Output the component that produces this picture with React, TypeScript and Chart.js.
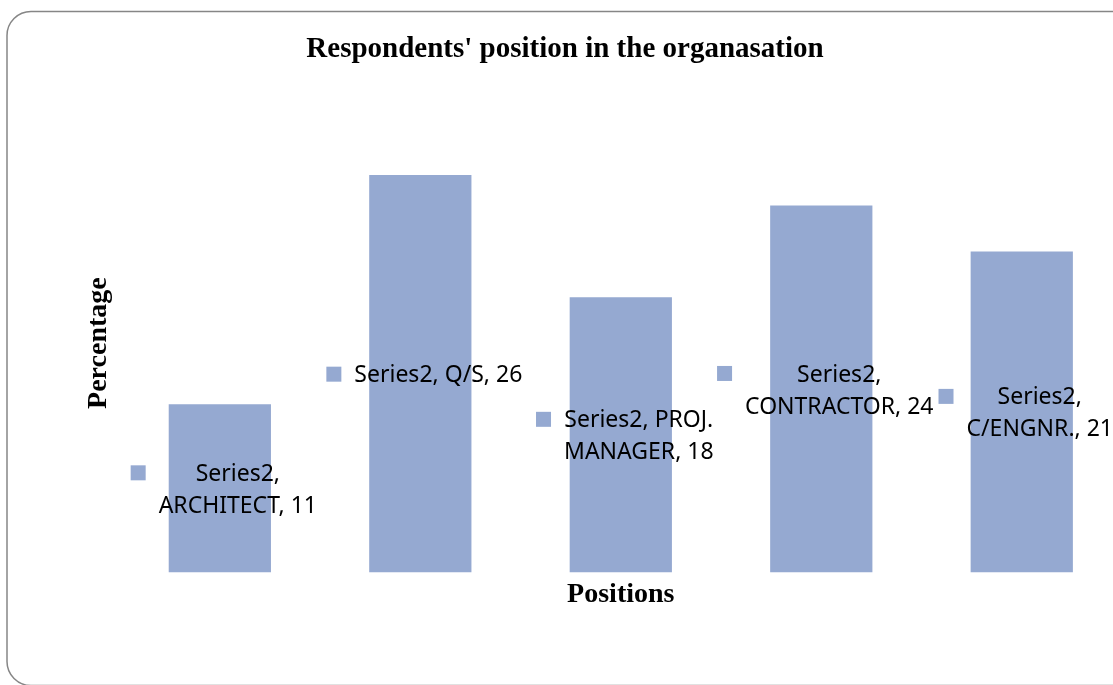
import React, { useEffect, useRef } from "react";
import { Chart, registerables } from "chart.js";

Chart.register(...registerables);

const categories = ["ARCHITECT", "Q/S", "PROJ. MANAGER", "CONTRACTOR", "C/ENGNR."];
const values = [11, 26, 18, 24, 21];
const seriesName = "Series2";
const chartTitle = "Respondents' position in the organasation";
const xTitle = "Positions";
const yTitle = "Percentage";
const yMin = 0;
const yMax = 30;

const BAR_COLOR = "#95A9D1";
const CANVAS_W = 1140;
const CANVAS_H = 685;
const SERIF = "'Liberation Serif', 'Times New Roman', serif";
const LABEL_FONT = "23px 'Noto Sans', 'Open Sans', sans-serif";
const LABEL_LINE_H = 32;
const LABEL_WRAP = 193;

const framePlugin = {
  id: "frame",
  beforeDraw(chart: any) {
    const ctx = chart.ctx;
    ctx.save();
    ctx.fillStyle = "#ffffff";
    ctx.fillRect(0, 0, chart.width, chart.height);
    ctx.strokeStyle = "#868686";
    ctx.lineWidth = 1.5;
    ctx.beginPath();
    ctx.roundRect(7, 11.5, 1140, 674, 24);
    ctx.stroke();
    ctx.restore();
  },
};

function wrapText(ctx: CanvasRenderingContext2D, text: string, maxW: number): string[] {
  const words = text.split(" ");
  const lines: string[] = [];
  let cur = "";
  for (const w of words) {
    const test = cur ? cur + " " + w : w;
    if (cur && ctx.measureText(test).width > maxW) {
      lines.push(cur);
      cur = w;
    } else {
      cur = test;
    }
  }
  if (cur) lines.push(cur);
  return lines;
}

const labelPlugin = {
  id: "barLabels",
  afterDatasetsDraw(chart: any) {
    const ctx: CanvasRenderingContext2D = chart.ctx;
    const meta = chart.getDatasetMeta(0);
    const ds = chart.data.datasets[0];
    ctx.save();
    ctx.font = LABEL_FONT;
    ctx.textBaseline = "middle";
    ctx.textAlign = "center";
    meta.data.forEach((bar: any, i: number) => {
      const text = `${ds.label}, ${chart.data.labels[i]}, ${ds.data[i]}`;
      const lines = wrapText(ctx, text, LABEL_WRAP);
      const textW = Math.max(...lines.map((l) => ctx.measureText(l).width));
      const keySize = 15;
      const gap = 13;
      const blockW = keySize + gap + textW;
      const cx = bar.x + 4;
      const left = cx - blockW / 2;
      const midY = (bar.y + bar.base) / 2 + 2;
      const firstY = midY - ((lines.length - 1) * LABEL_LINE_H) / 2;
      ctx.fillStyle = BAR_COLOR;
      ctx.fillRect(left, firstY - 1.5 - keySize / 2, keySize, keySize);
      ctx.fillStyle = "#000000";
      const textCx = left + keySize + gap + textW / 2;
      lines.forEach((l, j) => {
        ctx.fillText(l, textCx, firstY + j * LABEL_LINE_H);
      });
    });
    ctx.restore();
  },
};

export default function App() {
  const ref = useRef<HTMLCanvasElement | null>(null);

  useEffect(() => {
    if (!ref.current) return;
    const chart = new Chart(ref.current, {
      type: "bar",
      data: {
        labels: categories,
        datasets: [
          {
            label: seriesName,
            data: values,
            backgroundColor: BAR_COLOR,
            borderWidth: 0,
            categoryPercentage: 1,
            barPercentage: 0.51,
          },
        ],
      },
      options: {
        responsive: false,
        animation: false,
        layout: { padding: { left: 8, right: 18, top: 0, bottom: 0 } },
        plugins: {
          legend: { display: false },
          tooltip: { enabled: false },
          title: {
            display: true,
            text: chartTitle,
            color: "#000000",
            font: { family: SERIF, size: 29, weight: "bold" },
            padding: { top: 32, bottom: 47 },
          },
        },
        scales: {
          x: {
            grid: { display: false, drawTicks: false },
            border: { display: false },
            ticks: { display: false },
            title: {
              display: true,
              text: xTitle,
              color: "#000000",
              font: { family: SERIF, size: 28, weight: "bold" },
              padding: { top: 6, bottom: 73 },
            },
          },
          y: {
            min: yMin,
            max: yMax,
            grid: { display: false, drawTicks: false },
            border: { display: false },
            ticks: { display: false },
            title: {
              display: true,
              text: yTitle,
              color: "#000000",
              font: { family: SERIF, size: 28, weight: "bold" },
              padding: { top: 74, bottom: 4 },
            },
          },
        },
      },
      plugins: [framePlugin, labelPlugin],
    });
    return () => chart.destroy();
  }, []);

  return (
    <div
      style={{
        position: "absolute",
        left: 0,
        top: 0,
        width: 1113,
        height: 685,
        overflow: "hidden",
        background: "#ffffff",
      }}
    >
      <canvas
        ref={ref}
        width={CANVAS_W}
        height={CANVAS_H}
        style={{ width: CANVAS_W, height: CANVAS_H, display: "block" }}
      />
    </div>
  );
}
